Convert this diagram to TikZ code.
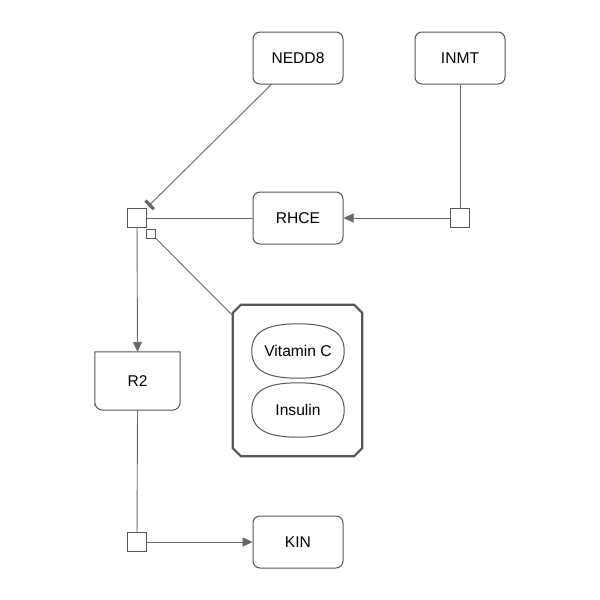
\documentclass[tikz,border=0pt]{standalone}
\usepackage{fontspec}
\setmainfont{Liberation Sans}
\usetikzlibrary{arrows.meta,calc}
\definecolor{bord}{HTML}{555555}
\definecolor{edge}{HTML}{666666}
\newcommand{\molshape}[1]{%
  \draw[bord, line width=1pt]
    (#1.west) .. controls ($(#1.west)+(0,-19)$) and ($(#1.north)+(-32,0)$) .. (#1.north)
    .. controls ($(#1.north)+(32,0)$) and ($(#1.east)+(0,-19)$) .. (#1.east)
    .. controls ($(#1.east)+(0,19)$) and ($(#1.south)+(32,0)$) .. (#1.south)
    .. controls ($(#1.south)+(-32,0)$) and ($(#1.west)+(0,19)$) .. (#1.west) -- cycle;}
\begin{document}
\begin{tikzpicture}[x=1pt,y=-1pt,
  every node/.style={font=\fontsize{15.6}{18}\selectfont},
  ent/.style={draw=bord, line width=1pt, rounded corners=7pt, minimum width=90pt, minimum height=52pt, inner sep=0pt},
  proc/.style={draw=bord, line width=0.8pt, minimum size=19pt, inner sep=0pt, fill=white},
  mini/.style={draw=bord, line width=0.8pt, minimum size=9pt, inner sep=0pt, fill=white},
  mol/.style={minimum width=92pt, minimum height=54pt, inner sep=0pt},
  conn/.style={draw=edge, line width=0.9pt},
  arr/.style={conn, -{Triangle[length=10pt,width=9pt]}},
  inh/.style={conn, -{Bar[width=12pt,line width=3.2pt]}}
]
\useasboundingbox (0,0) rectangle (600,600);

\node[ent] (nedd) at (298,58) {NEDD8};
\node[ent] (inmt) at (460,58) {INMT};
\node[ent] (rhce) at (298,218) {RHCE};
\node[ent] (kin) at (298,542) {KIN};

\node[proc] (p1) at (137,218) {};
\node[mini] (p1m) at (151,233.5) {};
\node[proc] (p2) at (460,218) {};
\node[proc] (p3) at (137,542) {};

% R2 node (top square corners, bottom rounded)
\node[minimum width=85pt, minimum height=58pt, inner sep=0pt] (r2) at (137.5,381) {R2};
\draw[bord, line width=1pt] (r2.north west) -- (r2.north east) -- ($(r2.south east)+(0,-12)$)
  [rounded corners=8pt] -- (r2.south east) -- (r2.south west) -- ($(r2.south west)+(0,-12)$)
  [sharp corners] -- cycle;

% complex
\node[minimum width=129pt, minimum height=151pt, inner sep=0pt] (cx) at (297.5,380.5) {};
\draw[bord, line width=2.2pt]
  ($(cx.north west)+(8,0)$) -- ($(cx.north east)+(-8,0)$) -- ($(cx.north east)+(0,8)$)
  -- ($(cx.south east)+(0,-8)$) -- ($(cx.south east)+(-8,0)$) -- ($(cx.south west)+(8,0)$)
  -- ($(cx.south west)+(0,-8)$) -- ($(cx.north west)+(0,8)$) -- cycle;
\node[mol] (vitc) at (298,351) {Vitamin C};
\node[mol] (ins) at (298,410) {Insulin};
\molshape{vitc}
\molshape{ins}

% connectors
\coordinate (inhend) at (148.5,206);
\draw[inh] (nedd) -- (inhend);
\draw[conn] (p1) -- (rhce);
\draw[conn] (inmt) -- (p2);
\draw[arr] (p2) -- (rhce);
\draw[conn] (p1m) -- (cx);
\draw[arr] (p1) -- (r2.north);
\draw[conn] (r2.south) -- (p3);
\draw[arr] (p3) -- (kin);
\node[proc] at (p1) {};
\node[mini] at (p1m) {};
\end{tikzpicture}
\end{document}
